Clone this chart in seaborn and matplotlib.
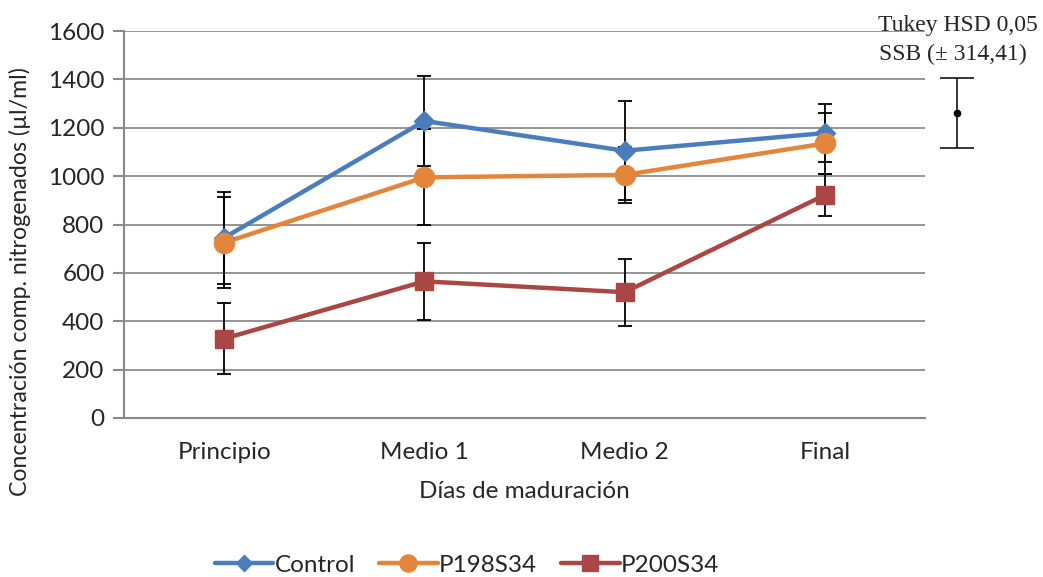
import numpy as np
import pandas as pd
import matplotlib
matplotlib.use("Agg")
import matplotlib.pyplot as plt
from matplotlib.lines import Line2D
import seaborn as sns

# Maturation stages
stages = ["Principio", "Medio 1", "Medio 2", "Final"]

# Nitrogen compound concentration (µl/ml) per treatment
control = [745, 1228, 1105, 1178]
p198s34 = [725, 995, 1005, 1135]
p200s34 = [328, 565, 520, 922]

# Error bar half-widths
control_err = [190, 186, 205, 120]
p198s34_err = [187, 198, 117, 125]
p200s34_err = [147, 160, 138, 85]

# Tukey HSD reference bar
tukey_center = 1261
tukey_half = 143

series = ["Control", "P198S34", "P200S34"]
colors = {"Control": "#4A7EBB", "P198S34": "#E3853A", "P200S34": "#AA4643"}
markers = {"Control": "D", "P198S34": "o", "P200S34": "s"}
msizes = {"Control": 10, "P198S34": 14.5, "P200S34": 13}

df = pd.DataFrame({
    "stage": stages * 3,
    "pos": list(range(len(stages))) * 3,
    "value": control + p198s34 + p200s34,
    "err": control_err + p198s34_err + p200s34_err,
    "series": sum([[s] * len(stages) for s in series], []),
})

sns.set_style("white")
plt.rcParams["font.family"] = ["Lato", "DejaVu Sans"]
FS = 17.5

fig = plt.figure(figsize=(10.43, 5.77), dpi=100)
ax = fig.add_axes([124 / 1043, 1 - 418 / 577, 801 / 1043, 387 / 577])

# Error bars sit behind the lines and markers
for s in series:
    sub = df[df["series"] == s]
    ax.errorbar(sub["pos"], sub["value"], yerr=sub["err"], fmt="none",
                ecolor="black", elinewidth=1.3, capsize=5, capthick=1.3, zorder=2)

sns.lineplot(data=df, x="pos", y="value", hue="series", palette=colors,
             linewidth=3.2, legend=False, ax=ax, zorder=3, sort=False)
for s in series:
    sub = df[df["series"] == s]
    ax.plot(sub["pos"], sub["value"], linestyle="none", marker=markers[s],
            markersize=msizes[s], color=colors[s], zorder=4)

ax.set_xlim(-0.5, 3.5)
ax.set_ylim(0, 1600)
ax.set_yticks(np.arange(0, 1601, 200))
ax.set_xticks(range(len(stages)))
ax.set_xticklabels(stages)
ax.set_xticks(np.arange(-0.5, 3.6, 1), minor=True)
ax.tick_params(axis="x", which="major", length=0, labelsize=FS, pad=17)
ax.tick_params(axis="x", which="minor", length=8, width=1.5, color="#898989", direction="out")
ax.tick_params(axis="y", length=8, width=1.5, color="#898989", labelsize=FS, pad=6, left=True)
ax.grid(axis="y", color="#8c8c8c", linewidth=1.3, zorder=0)
ax.set_axisbelow(True)
for side in ["top", "right"]:
    ax.spines[side].set_visible(False)
for side in ["left", "bottom"]:
    ax.spines[side].set_color("#898989")
    ax.spines[side].set_linewidth(1.5)

ax.set_xlabel("")
ax.set_ylabel("")
fig.text(524 / 1043, 1 - 492 / 577, "Días de maduración", ha="center", va="center", fontsize=FS)
fig.text(20 / 1043, 1 - 282 / 577, "Concentración comp. nitrogenados (µl/ml)",
         rotation=90, ha="center", va="center", fontsize=16.7)

# Tukey HSD bar outside the plot area
tx = 3.66
ax.errorbar([tx], [tukey_center], yerr=[tukey_half], fmt="o", color="black",
            markersize=4.5, elinewidth=1.1, capsize=12, capthick=1.1, clip_on=False, zorder=5)
for line in ax.lines[-3:]:
    line.set_clip_on(False)
serif = ["Liberation Serif", "DejaVu Serif"]
fig.text(958 / 1043, 1 - 26 / 577, "Tukey HSD 0,05", ha="center", va="center",
         fontsize=17, family=serif)
fig.text(953 / 1043, 1 - 54 / 577, "SSB (± 314,41)", ha="center", va="center",
         fontsize=17, family=serif)

handles = [Line2D([0], [0], color=colors[s], linewidth=3.2, marker=markers[s],
                  markersize=msizes[s] * 0.85) for s in series]
fig.legend(handles, series, loc="center", bbox_to_anchor=(467 / 1043, 1 - 565 / 577),
           ncol=3, frameon=False, fontsize=FS, handlelength=2.4, handletextpad=0.05,
           columnspacing=1.0)

fig.savefig("out.png", dpi=100)
